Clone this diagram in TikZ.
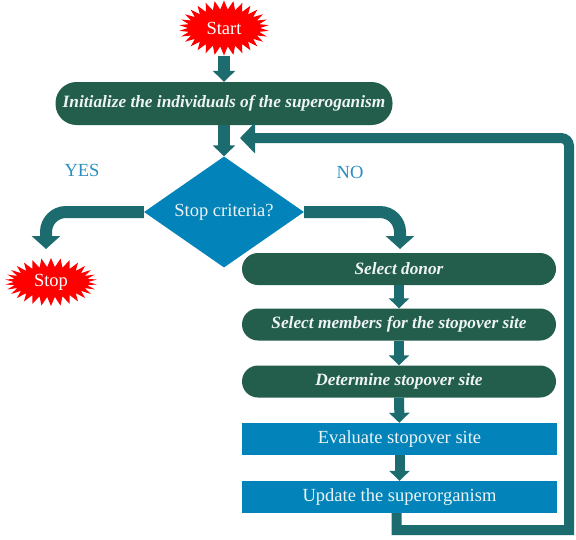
\documentclass[tikz,border=0pt]{standalone}
\usepackage{fontspec}
\setmainfont{Liberation Serif}
\usetikzlibrary{shapes.geometric, shapes.symbols, arrows.meta}
\definecolor{boxgreen}{HTML}{235E4C}
\definecolor{arrteal}{HTML}{1B6B6F}
\definecolor{boxblue}{HTML}{0284BA}
\definecolor{lbltext}{HTML}{2A8FC0}
\definecolor{boxtext}{HTML}{EEF3F5}
\tikzset{x=1pt, y=-1pt,
every node/.style={font=\fontsize{18.5}{20}\selectfont},
burst/.style={starburst, starburst points=30, starburst point height=9pt, random starburst=0, fill=red, draw=none, text=white, inner sep=0pt},
greenbox/.style={fill=boxgreen, text=boxtext, rounded corners=16pt, minimum height=32pt, minimum width=314pt, font=\fontsize{17.3}{19}\selectfont\bfseries\itshape},
bluebox/.style={fill=boxblue, text=boxtext, minimum height=32pt, minimum width=315pt},
decision/.style={diamond, aspect=1.44, fill=boxblue, text=boxtext, minimum width=160pt, minimum height=111pt, inner sep=0pt},
bigarrow/.style={draw=arrteal, line width=12pt, -{Triangle[width=22pt,length=11pt]}},
smallarrow/.style={draw=arrteal, line width=10pt, -{Triangle[width=20pt,length=10pt]}},
branch/.style={draw=arrteal, line width=12pt, rounded corners=20pt, -{Triangle[width=28pt,length=13pt]}},
backarrow/.style={draw=arrteal, line width=10pt, -{Triangle[width=30pt,length=15pt]}},
answer/.style={text=lbltext},
}

\begin{document}
\begin{tikzpicture}
    \useasboundingbox (0,0) rectangle (576,539);
    \node[burst, minimum width=90pt, minimum height=55pt] (start) at (224,28) {Start};
    \node[greenbox, minimum width=337pt, minimum height=43pt, rounded corners=21pt] (init) at (224,103.5) {Initialize the individuals of the superoganism};
    \node[decision] (crit) at (224,212) {Stop criteria?};
    \node[burst, minimum width=92pt, minimum height=48pt] (stop) at (51,282) {Stop};
    \node[answer] (yes) at (82,170) {YES};
    \node[answer] (no) at (350,172) {NO};
    \node[greenbox] (donor) at (399,269) {Select donor};
    \node[greenbox] (members) at (399,324.5) {Select members for the stopover site};
    \node[greenbox] (site) at (399,381.5) {Determine stopover site};
    \node[bluebox] (eval) at (399.5,439) {Evaluate stopover site};
    \node[bluebox] (update) at (399.5,497) {Update the superorganism};
    \coordinate (yesend) at (46,249);
    \coordinate (noend) at (400,249);
    \coordinate (loopbr) at (569,530);
    \coordinate (looptr) at (569,138);
    \coordinate (backend) at (240,138);
    \draw[bigarrow] (start.south) -- (start.south |- init.north);
    \draw[bigarrow] (init.south) -- (crit.north);
    \draw[branch] (crit.west) -| (yesend);
    \draw[branch] (crit.east) -| (noend);
    \draw[smallarrow] (donor) -- (members);
    \draw[smallarrow] (members) -- (site);
    \draw[smallarrow] (site) -- (eval);
    \draw[smallarrow] (eval) -- (update);
    \draw[backarrow] ([xshift=-3pt]update.south) |- (loopbr) [rounded corners=8pt] -- (looptr) [sharp corners] -- (backend);
\end{tikzpicture}
\end{document}
